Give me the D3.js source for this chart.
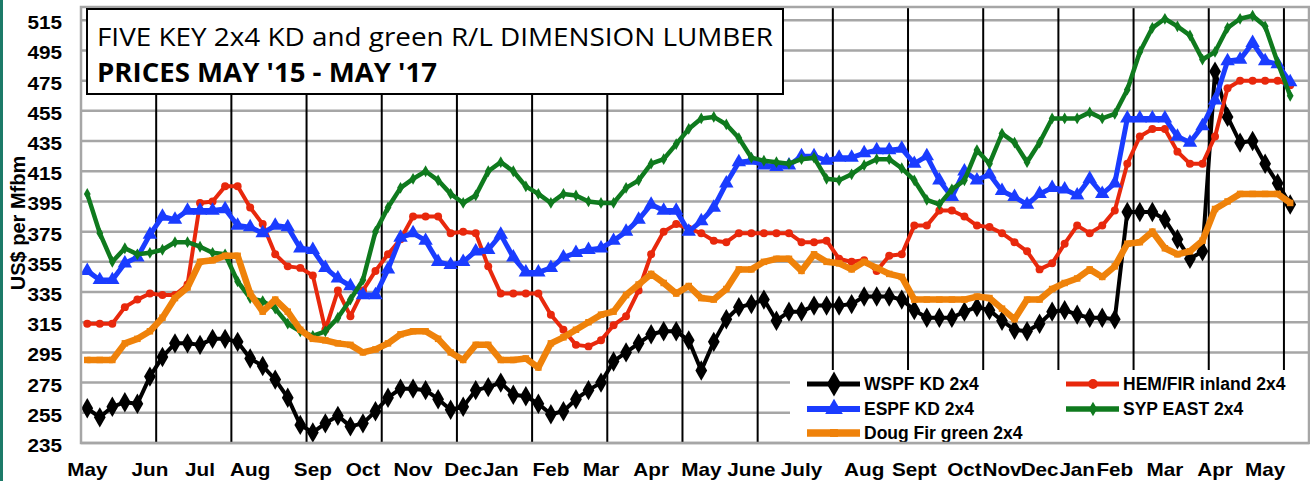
<!DOCTYPE html>
<html lang="en">
<head>
  <meta charset="UTF-8">
  <title>Five Key 2x4 Lumber Prices</title>
  <style>
    body { margin: 0; background: #fff; }
    svg { display: block; }
    .tick-label { font-family: "Liberation Sans", Arial, sans-serif; font-weight: bold; font-size: 18px; fill: #000; }
    .legend-label { font-family: "Liberation Sans", Arial, sans-serif; font-weight: bold; font-size: 17.5px; fill: #000; }
    .title { font-family: "Open Sans", sans-serif; font-size: 26px; fill: #000; }
  </style>
</head>
<body>
  <svg id="chart" width="1310" height="481"></svg>
  <script src="https://d3js.org/d3.v7.min.js"></script>
  <script>
    // month labels and the week (category index) each one sits under
    const monthLabels = ["May", "Jun", "Jul", "Aug", "Sep", "Oct", "Nov", "Dec", "Jan", "Feb", "Mar", "Apr",
      "May", "June", "July", "Aug", "Sept", "Oct", "Nov", "Dec", "Jan", "Feb", "Mar", "Apr", "May"];
    const monthIndex = [0, 5, 9, 13, 18, 22, 26, 30, 33, 37, 41, 45, 49, 53, 57, 62, 66, 70, 73, 76, 79, 82, 86, 90, 94];
    const yTicks = [235, 255, 275, 295, 315, 335, 355, 375, 395, 415, 435, 455, 475, 495, 515];

    // weekly prices, US$ per Mfbm
    const wspf = [258, 252, 259, 262, 261, 279, 292, 301, 301, 300, 304, 304, 302, 291, 286, 277, 265, 247, 242, 248,
      253, 246, 248, 256, 265, 271, 271, 270, 264, 257, 259, 270, 272, 275, 267, 266, 261, 254, 256, 264,
      270, 275, 289, 295, 301, 307, 309, 309, 303, 283, 302, 317, 325, 327, 330, 316, 322, 322, 326, 326,
      326, 327, 332, 332, 332, 330, 323, 318, 318, 318, 322, 325, 323, 316, 310, 309, 314, 322, 323, 320,
      318, 318, 317, 388, 388, 388, 383, 370, 357, 362, 481, 451, 434, 435, 420, 407, 393];
    const hemFir = [314, 314, 314, 325, 330, 334, 333, 333, 340, 394, 395, 405, 405, 391, 380, 360, 352, 351, 346, 310,
      336, 319, 336, 349, 360, 370, 385, 385, 385, 374, 375, 374, 352, 334, 334, 334, 334, 320, 310, 300,
      299, 303, 313, 319, 336, 360, 375, 380, 377, 374, 369, 368, 374, 374, 374, 374, 374, 368, 368, 369,
      357, 355, 356, 349, 359, 360, 379, 379, 389, 389, 385, 379, 378, 374, 368, 362, 350, 354, 367, 379,
      374, 379, 389, 420, 438, 443, 443, 428, 420, 420, 438, 470, 475, 475, 475, 475, 472];
    const espf = [349, 343, 343, 354, 358, 373, 385, 383, 389, 389, 389, 390, 379, 378, 374, 379, 378, 364, 363, 351,
      344, 339, 333, 333, 350, 371, 374, 369, 355, 353, 355, 362, 363, 373, 358, 348, 348, 351, 358, 361,
      363, 364, 369, 375, 383, 393, 389, 389, 375, 382, 391, 407, 421, 422, 419, 418, 419, 425, 425, 422,
      424, 424, 427, 429, 429, 430, 420, 425, 409, 398, 415, 409, 413, 402, 398, 393, 400, 404, 403, 399,
      410, 400, 407, 450, 450, 450, 450, 438, 434, 445, 462, 488, 489, 500, 488, 486, 474];
    const sypEast = [400, 374, 355, 364, 360, 361, 363, 368, 368, 365, 361, 360, 342, 331, 329, 324, 314, 309, 306, 309,
      318, 330, 343, 375, 391, 404, 410, 415, 409, 400, 394, 399, 415, 421, 415, 405, 400, 394, 400, 399,
      395, 394, 394, 404, 409, 420, 423, 433, 443, 450, 451, 446, 437, 424, 422, 421, 420, 423, 424, 410,
      409, 413, 419, 423, 423, 417, 409, 396, 393, 403, 409, 429, 420, 440, 434, 421, 434, 450, 450, 450,
      454, 450, 453, 469, 494, 510, 516, 511, 505, 489, 494, 510, 516, 518, 511, 487, 465];
    const dougFir = [290, 290, 290, 301, 304, 309, 318, 331, 338, 355, 356, 359, 359, 334, 322, 330, 322, 310, 304, 303,
      301, 300, 295, 297, 301, 307, 309, 309, 304, 295, 290, 300, 300, 290, 290, 291, 285, 301, 305, 310,
      315, 320, 322, 333, 340, 347, 341, 334, 339, 331, 330, 337, 350, 350, 355, 357, 357, 349, 360, 355,
      354, 350, 355, 351, 347, 345, 330, 330, 330, 330, 330, 332, 331, 324, 317, 330, 330, 337, 341, 344,
      350, 345, 352, 367, 368, 375, 364, 360, 362, 369, 390, 395, 400, 400, 400, 400, 394];

    const series = [
      { name: "WSPF KD 2x4", values: wspf, color: "#000000", width: 4, symbol: d3.symbolDiamond, size: 120 },
      { name: "HEM/FIR inland 2x4", values: hemFir, color: "#e8280c", width: 4, symbol: d3.symbolCircle, size: 50 },
      { name: "ESPF KD 2x4", values: espf, color: "#1a3cff", width: 5, symbol: d3.symbolTriangle, size: 90 },
      { name: "SYP EAST 2x4", values: sypEast, color: "#0f7a1e", width: 4.5, symbol: d3.symbolDiamond, size: 40 },
      { name: "Doug Fir green 2x4", values: dougFir, color: "#ef820a", width: 6.5, symbol: d3.symbolSquare, size: 42 }
    ];

    const plot = { left: 81, right: 1309, top: 7, bottom: 443 };
    const nWeeks = 98;

    const svg = d3.select("#chart");

    const x = d3.scaleLinear().domain([-0.5, nWeeks - 0.5]).range([plot.left, plot.right]);
    const y = d3.scaleLinear().domain([235, 523.8]).range([plot.bottom, plot.top]);

    // teal strip on the left edge
    svg.append("rect").attr("x", 0).attr("y", 0).attr("width", 3).attr("height", 481).attr("fill", "#1d7a68");

    // horizontal gridlines
    svg.append("g")
      .selectAll("line")
      .data(yTicks)
      .join("line")
      .attr("x1", plot.left).attr("x2", plot.right)
      .attr("y1", d => y(d)).attr("y2", d => y(d))
      .attr("stroke", "#a6a6a6")
      .attr("stroke-width", 2.5);

    // black month separators every 6 weeks
    const sepIdx = d3.range(5.5, nWeeks, 6);
    svg.append("g")
      .selectAll("line")
      .data(sepIdx)
      .join("line")
      .attr("x1", d => x(d)).attr("x2", d => x(d))
      .attr("y1", plot.top).attr("y2", plot.bottom)
      .attr("stroke", "#000")
      .attr("stroke-width", 2);

    // series lines and markers
    const line = d3.line().x((d, i) => x(i)).y(d => y(d));
    series.forEach(s => {
      const g = svg.append("g");
      g.append("path")
        .attr("d", line(s.values))
        .attr("fill", "none")
        .attr("stroke", s.color)
        .attr("stroke-width", s.width)
        .attr("stroke-linejoin", "round");
      g.selectAll("path.mk")
        .data(s.values)
        .join("path")
        .classed("mk", true)
        .attr("d", d3.symbol().type(s.symbol).size(s.size))
        .attr("transform", (d, i) => `translate(${x(i)},${y(d)})`)
        .attr("fill", s.color);
    });

    // legend
    const legend = svg.append("g");
    legend.append("rect")
      .attr("x", 790).attr("y", 370).attr("width", 519).attr("height", 73)
      .attr("fill", "#fff");
    const colX = [807, 1066];
    const rowY = [384, 409, 433];
    series.forEach((s, i) => {
      const lx = colX[i % 2], ly = rowY[Math.floor(i / 2)];
      legend.append("line")
        .attr("x1", lx).attr("x2", lx + 53)
        .attr("y1", ly).attr("y2", ly)
        .attr("stroke", s.color)
        .attr("stroke-width", s.width + 1);
      legend.append("path")
        .attr("d", d3.symbol().type(s.symbol).size(s.size * 1.5))
        .attr("transform", `translate(${lx + 27},${ly})`)
        .attr("fill", s.color);
      legend.append("text")
        .attr("class", "legend-label")
        .attr("x", lx + 57)
        .attr("y", ly + 6)
        .text(s.name);
    });

    // plot border
    svg.append("rect")
      .attr("x", plot.left).attr("y", plot.top)
      .attr("width", plot.right - plot.left).attr("height", plot.bottom - plot.top)
      .attr("fill", "none")
      .attr("stroke", "#a6a6a6")
      .attr("stroke-width", 2.5);

    // y tick labels
    svg.append("g")
      .selectAll("text")
      .data(yTicks)
      .join("text")
      .attr("class", "tick-label")
      .attr("text-anchor", "end")
      .attr("transform", d => `translate(62,${y(d) + 9}) scale(1.15,1)`)
      .text(d => d);

    // x month labels
    svg.append("g")
      .selectAll("text")
      .data(monthIndex)
      .join("text")
      .attr("class", "tick-label")
      .attr("text-anchor", "middle")
      .attr("transform", d => `translate(${x(d)},476) scale(1.15,1)`)
      .text((d, i) => monthLabels[i]);

    // y axis title
    svg.append("text")
      .attr("class", "tick-label")
      .style("font-size", "20px")
      .attr("text-anchor", "middle")
      .attr("transform", "translate(25,223) rotate(-90)")
      .text("US$ per Mfbm");

    // title box
    svg.append("rect")
      .attr("x", 87).attr("y", 9).attr("width", 696).attr("height", 85)
      .attr("fill", "#fff")
      .attr("stroke", "#000")
      .attr("stroke-width", 2);
    svg.append("text")
      .attr("class", "title")
      .attr("x", 97).attr("y", 46)
      .attr("textLength", 676)
      .attr("lengthAdjust", "spacingAndGlyphs")
      .text("FIVE KEY 2x4 KD and green R/L DIMENSION LUMBER");
    svg.append("text")
      .attr("class", "title")
      .style("font-weight", "bold")
      .attr("x", 97).attr("y", 82)
      .attr("textLength", 340)
      .attr("lengthAdjust", "spacingAndGlyphs")
      .text("PRICES MAY '15 - MAY '17");
  </script>
</body>
</html>
